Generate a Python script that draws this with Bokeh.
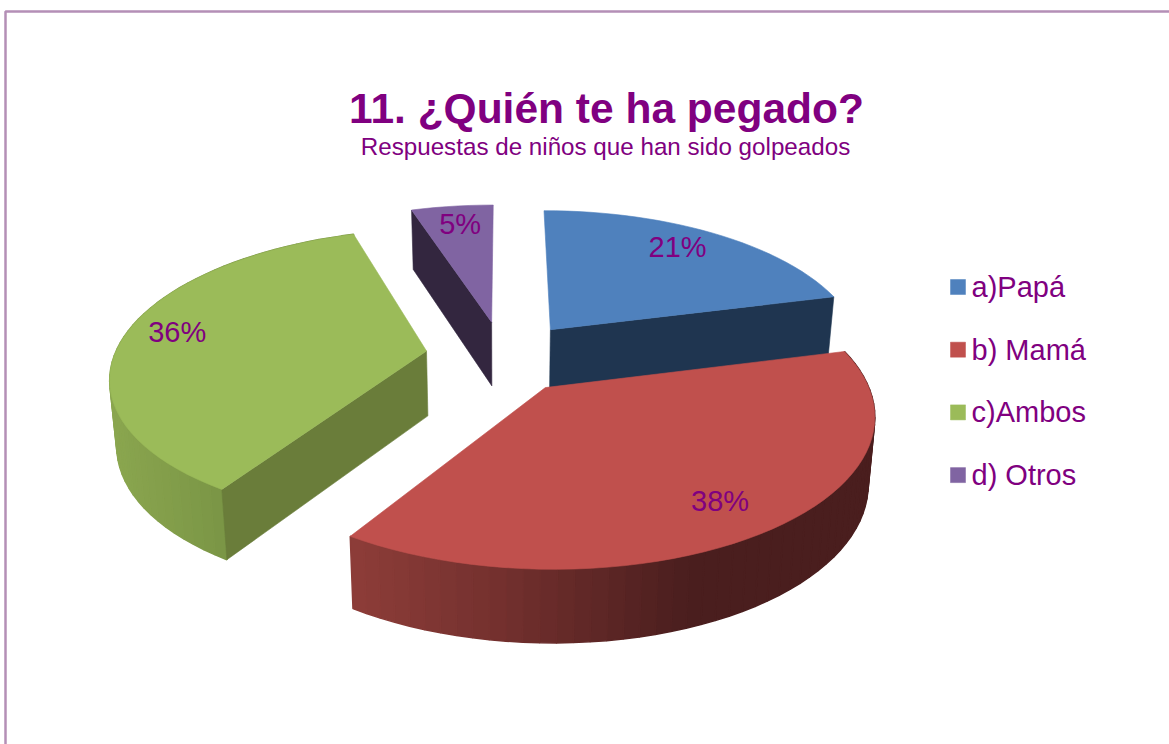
import math
from bokeh.plotting import figure
from bokeh.models import ColumnDataSource
from bokeh.core.properties import value
from bokeh.embed import file_html
from bokeh.resources import INLINE

# data
categories = ["a)Papá", "b) Mamá", "c)Ambos", "d) Otros"]
shares = [21, 38, 36, 5]
share_labels = ["21%", "38%", "36%", "5%"]
title_text = "11. ¿Quién te ha pegado?"
subtitle_text = "Respuestas de niños que han sido golpeados"

# styles
top_colors = ["#4f81bd", "#c0504d", "#9bbb59", "#8064a2"]
cut_colors = ["#1f3550", "#7a3330", "#6a7d3a", "#33263f"]
rim_stops = [
    [(300, "#2a4a70"), (900, "#1f3550")],
    [(347, "#8e3d39"), (500, "#73302e"), (690, "#4a1e1e"), (880, "#4a1e1e")],
    [(110, "#8aa64f"), (225, "#7a9545"), (500, "#7a9545")],
    [(400, "#33263f"), (500, "#33263f")],
]
text_color = "#800080"
border_color = "#b48fb6"
FONT = value("Liberation Sans")

# projection of the exploded pie
CX, CY, PERSP = 503, 355, 0.162
RX = [315, 312, 312, 315]
RY = [146, 140.6, 143, 146]
EXPLODE_U = [0.25, 0.22, 0.25, 0.25]
EXPLODE_V = [0.23, 0.272, 0.25, 0.24]
DEPTH0, DEPTH1, BASE_SHRINK = 30, 35, 0.982
# which radial cut of each slice faces the viewer (0 start, 1 end, None neither)
VISIBLE_CUT = [1, None, 0, 0]
VISIBLE_RIM = [False, True, True, False]


def top_point(i, theta, r, mid):
    pu = EXPLODE_U[i] * math.sin(mid) + r * math.sin(theta)
    pv = -EXPLODE_V[i] * math.cos(mid) - r * math.cos(theta)
    s = 1 / (1 - PERSP * pv)
    return CX + RX[i] * pu * s, CY + RY[i] * pv * s, s


def base_point(i, theta, r, mid):
    x, y, s = top_point(i, theta, r, mid)
    return CX + (x - CX) * BASE_SHRINK, y + DEPTH0 + DEPTH1 * s


def hexrgb(c):
    return [int(c[i:i + 2], 16) for i in (1, 3, 5)]


def ramp(stops, x):
    if x <= stops[0][0]:
        return stops[0][1]
    for (x0, c0), (x1, c1) in zip(stops, stops[1:]):
        if x <= x1:
            t = (x - x0) / (x1 - x0)
            a, b = hexrgb(c0), hexrgb(c1)
            return "#%02x%02x%02x" % tuple(round(p + (q - p) * t) for p, q in zip(a, b))
    return stops[-1][1]


p = figure(width=1169, height=744, x_range=(0, 1169), y_range=(744, 0),
           output_backend="svg", toolbar_location=None, x_axis_type=None, y_axis_type=None,
           min_border=0, outline_line_color=None, background_fill_color="white",
           border_fill_color="white")
p.grid.visible = False
p.styles = {"position": "absolute", "left": "0px", "top": "0px"}

# chart frame
p.line([5, 5, 1169], [744, 11, 11], line_color=border_color, line_width=2.5)

total = sum(shares)
spans = []
a = 0.0
for v in shares:
    b = a + v / total * 2 * math.pi
    spans.append((a, b))
    a = b

# back to front
for i in [0, 3, 2, 1]:
    t0, t1 = spans[i]
    mid = (t0 + t1) / 2
    n = max(6, int(math.degrees(t1 - t0) / 2.5))
    th = [t0 + (t1 - t0) * k / n for k in range(n + 1)]
    # rim
    if VISIBLE_RIM[i]:
        xs, ys, cs = [], [], []
        for u, w in zip(th, th[1:]):
            ax, ay, _ = top_point(i, u, 1, mid)
            bx, by, _ = top_point(i, w, 1, mid)
            dx, dy = base_point(i, w, 1, mid)
            ex, ey = base_point(i, u, 1, mid)
            xs.append([ax, bx, dx, ex])
            ys.append([ay, by, dy, ey])
            cs.append(ramp(rim_stops[i], (ax + bx) / 2))
        src = ColumnDataSource(dict(xs=xs, ys=ys, c=cs))
        p.patches("xs", "ys", source=src, fill_color="c", line_color="c", line_width=1.5)
    # cut faces
    ox, oy, _ = top_point(i, 0, 0, mid)
    bx0, by0 = base_point(i, 0, 0, mid)
    if VISIBLE_CUT[i] is not None:
        t = (t0, t1)[VISIBLE_CUT[i]]
        qx, qy, _ = top_point(i, t, 1, mid)
        rx, ry = base_point(i, t, 1, mid)
        p.patch([ox, qx, rx, bx0], [oy, qy, ry, by0], fill_color=cut_colors[i],
                line_color=cut_colors[i], line_width=0.6)
    # top face
    px = [ox]
    py = [oy]
    for t in th:
        x, y, _ = top_point(i, t, 1, mid)
        px.append(x)
        py.append(y)
    p.patch(px, py, fill_color=top_colors[i], line_color=top_colors[i], line_width=0.6)

# value labels
LABEL_R = [0.8, 0.84, 0.78, 0.8]
LABEL_SHIFT = [(-5, -4), (-11, -3), (-14, -5), (1, -3)]
for i, lab in enumerate(share_labels):
    mid = sum(spans[i]) / 2
    x, y, _ = top_point(i, mid, LABEL_R[i], mid)
    p.text([x + LABEL_SHIFT[i][0]], [y + LABEL_SHIFT[i][1]], text=[lab], text_font=FONT,
           text_font_size="29px", text_color=text_color, text_align="center", text_baseline="middle")

# titles
p.text([606], [108], text=[title_text], text_font=FONT, text_font_style="bold",
       text_font_size="42.5px", text_color=text_color, text_align="center", text_baseline="middle")
p.text([605], [146], text=[subtitle_text], text_font=FONT,
       text_font_size="24.2px", text_color=text_color, text_align="center", text_baseline="middle")

# legend
LEG_Y = 286.5
LEG_STEP = 62.7
for i, name in enumerate(categories):
    y = LEG_Y + i * LEG_STEP
    p.rect([957.5], [y], width=15, height=15, fill_color=top_colors[i], line_color=top_colors[i], line_alpha=0.5)
    p.text([971], [y], text=[name], text_font=FONT, text_font_size="29px",
           text_color=text_color, text_align="left", text_baseline="middle")

open("out.html", "w").write(file_html(p, INLINE))
